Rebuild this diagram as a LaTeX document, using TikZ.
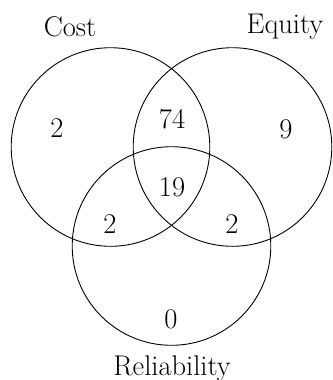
\documentclass[tikz,border=0pt]{standalone}
\usepackage{fontspec}
\begin{document}
\begin{tikzpicture}[x=1pt,y=-1pt,
  setc/.style={draw=black,line width=0.9pt},
  lbl/.style={inner sep=0pt,anchor=base,font=\fontsize{28.5}{34}\selectfont}]
\useasboundingbox (0,0) rectangle (332,380);
\draw[setc] (110.5,147) circle[radius=99.3];
\draw[setc] (232.5,147) circle[radius=99.3];
\draw[setc] (171.5,246) circle[radius=99.3];
\node[lbl] (cost) at (70,36) {Cost};
\node[lbl] (equity) at (285,33) {Equity};
\node[lbl] (rel) at (172,375) {Reliability};
\node[lbl] (c) at (57,137) {2};
\node[lbl] (ce) at (172,128) {74};
\node[lbl] (e) at (286,138) {9};
\node[lbl] (cer) at (172,196) {19};
\node[lbl] (cr) at (110,233) {2};
\node[lbl] (er) at (232,233) {2};
\node[lbl] (r) at (171,328) {0};
\end{tikzpicture}
\end{document}
